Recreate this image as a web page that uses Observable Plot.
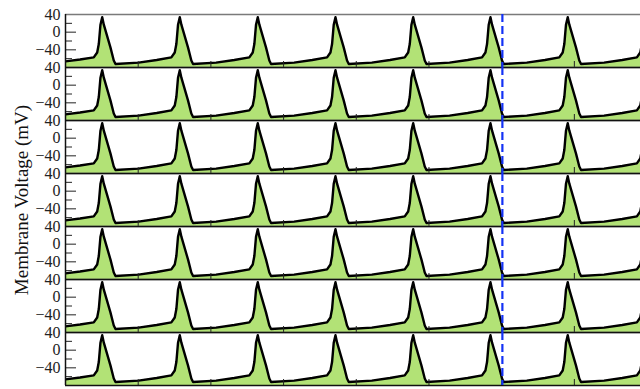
<!DOCTYPE html>
<html>
<head>
<meta charset="utf-8">
<script src="https://cdn.jsdelivr.net/npm/d3@7"></script>
<script src="https://cdn.jsdelivr.net/npm/@observablehq/plot@0.6"></script>
<style>
  html, body { margin: 0; padding: 0; background: #fff; }
  #chart svg, #chart svg text {
    font-family: "Liberation Serif", "Times New Roman", Times, "DejaVu Serif", serif !important;
  }
</style>
</head>
<body>
<div id="chart"></div>
<script>
// Seven stacked recordings of the same periodic action potential train.
const panels = ["1", "2", "3", "4", "5", "6", "7"];

// Time (ms) of each traced point of the membrane voltage.
const timeMs = [
  0, 20,
  38.9, 43.6, 45.8, 48.1, 50.5, 52.7, 61.9, 66.4, 68.8, 100.5, 125.5,
  145.6, 150.3, 152.5, 154.8, 157.2, 159.4, 168.6, 173.1, 175.5, 207.2, 232.2,
  252.9, 257.6, 259.8, 262.1, 264.5, 266.7, 275.9, 280.4, 282.8, 314.5, 339.5,
  359.8, 364.5, 366.7, 369.0, 371.4, 373.6, 382.8, 387.3, 389.7, 421.4, 446.4,
  466.7, 471.4, 473.6, 475.9, 478.3, 480.5, 489.7, 494.2, 496.6, 528.3, 553.3,
  573.0, 577.7, 579.9, 582.2, 584.6, 586.8, 596.0, 600.5, 602.9, 634.6, 659.6,
  679.3, 684.0, 686.2, 688.5, 690.9, 693.1, 702.3, 706.8, 709.2, 740.9, 765.9,
  786.0, 790.7, 792.9, 795.2, 797.6
];

// Membrane voltage (mV) at those times.
const voltageMv = [
  -66, -62,
  -57, -46, -27, 17, 34, 17, -35, -64, -72, -69, -63,
  -57, -46, -27, 17, 34, 17, -35, -64, -72, -69, -63,
  -57, -46, -27, 17, 34, 17, -35, -64, -72, -69, -63,
  -57, -46, -27, 17, 34, 17, -35, -64, -72, -69, -63,
  -57, -46, -27, 17, 34, 17, -35, -64, -72, -69, -63,
  -57, -46, -27, 17, 34, 17, -35, -64, -72, -69, -63,
  -57, -46, -27, 17, 34, 17, -35, -64, -72, -69, -63,
  -57, -46, -27, 17, 34
];

// Axis ticks.
const labeledTicks = [40, 0, -40];
const minorTicks = [20, -20, -60];
const timeTicks = [100, 200, 300, 400, 500, 600, 700];

// Time marked by the dashed line.
const markerMs = [601];

const timeDomain = [0, 791];
const voltageDomain = [-80, 40];

const rows = panels.flatMap(panel =>
  timeMs.map((t, i) => ({panel, t, v: voltageMv[i]}))
);

const svg = Plot.plot({
  width: 640,
  height: 389,
  marginTop: 11,
  marginBottom: 1,
  marginLeft: 65,
  marginRight: 0,
  style: {fontSize: "16px", color: "#111", background: "#fff"},
  x: {domain: timeDomain, label: null},
  y: {domain: voltageDomain, label: null},
  fy: {domain: panels, padding: 0, axis: null, label: null},
  marks: [
    Plot.areaY(rows, {fy: "panel", x: "t", y1: voltageDomain[0], y2: "v", fill: "#b2e276", curve: "linear", clip: true}),
    Plot.line(rows, {fy: "panel", x: "t", y: "v", stroke: "#000", strokeWidth: 2.4, strokeLinejoin: "round", clip: true}),
    Plot.axisX(timeTicks, {anchor: "bottom", facetAnchor: null, tickSize: -6, tickFormat: () => "", label: null, stroke: "#222"}),
    Plot.axisY(minorTicks, {anchor: "left", tickSize: -7, tickFormat: () => "", label: null, stroke: "#222"}),
    Plot.axisY(labeledTicks, {anchor: "left", tickSize: -11, tickPadding: 16, fontSize: 16, label: null, stroke: "#222", fill: "#222"}),
    Plot.ruleY([voltageDomain[1]], {stroke: "#7a7a7a", strokeWidth: 1.5}),
    Plot.ruleY([voltageDomain[0]], {stroke: "#111", strokeWidth: 1.5}),
    Plot.ruleX([timeDomain[0]], {stroke: "#111", strokeWidth: 1.5}),
    Plot.ruleX(markerMs, {stroke: "#1432f5", strokeWidth: 2.2, strokeDasharray: "8,4"})
  ]
});

d3.select(svg).append("text")
  .attr("transform", "translate(27.5,200) rotate(-90)")
  .attr("text-anchor", "middle")
  .attr("font-size", 19)
  .attr("fill", "#111")
  .text("Membrane Voltage (mV)");

document.getElementById("chart").appendChild(svg);
</script>
</body>
</html>
